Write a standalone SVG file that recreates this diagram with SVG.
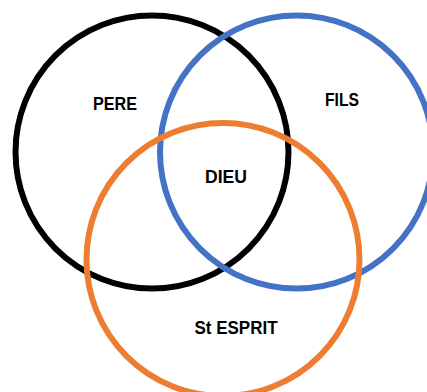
<svg xmlns="http://www.w3.org/2000/svg" width="427" height="392" viewBox="0 0 427 392">
<style>
.c{fill:none;stroke-width:6}
.t{font-family:"Liberation Sans",Arial,sans-serif;font-weight:bold;font-size:18px;fill:#000;text-anchor:middle}
</style>
<rect width="427" height="392" fill="#fff"/>
<g id="pere"><circle class="c" cx="152" cy="152" r="136.5" stroke="#000"/><text class="t" x="115" y="110" textLength="44" lengthAdjust="spacingAndGlyphs">PERE</text></g>
<g id="fils"><circle class="c" cx="296.5" cy="152" r="136.5" stroke="#4472C4"/><text class="t" x="342" y="106" textLength="34" lengthAdjust="spacingAndGlyphs">FILS</text></g>
<g id="esprit"><circle class="c" cx="223" cy="259.5" r="136.5" stroke="#ED7D31"/><text class="t" x="236" y="334" textLength="83" lengthAdjust="spacingAndGlyphs">St ESPRIT</text></g>
<g id="dieu"><text class="t" x="226" y="183" textLength="42" lengthAdjust="spacingAndGlyphs">DIEU</text></g>
</svg>
